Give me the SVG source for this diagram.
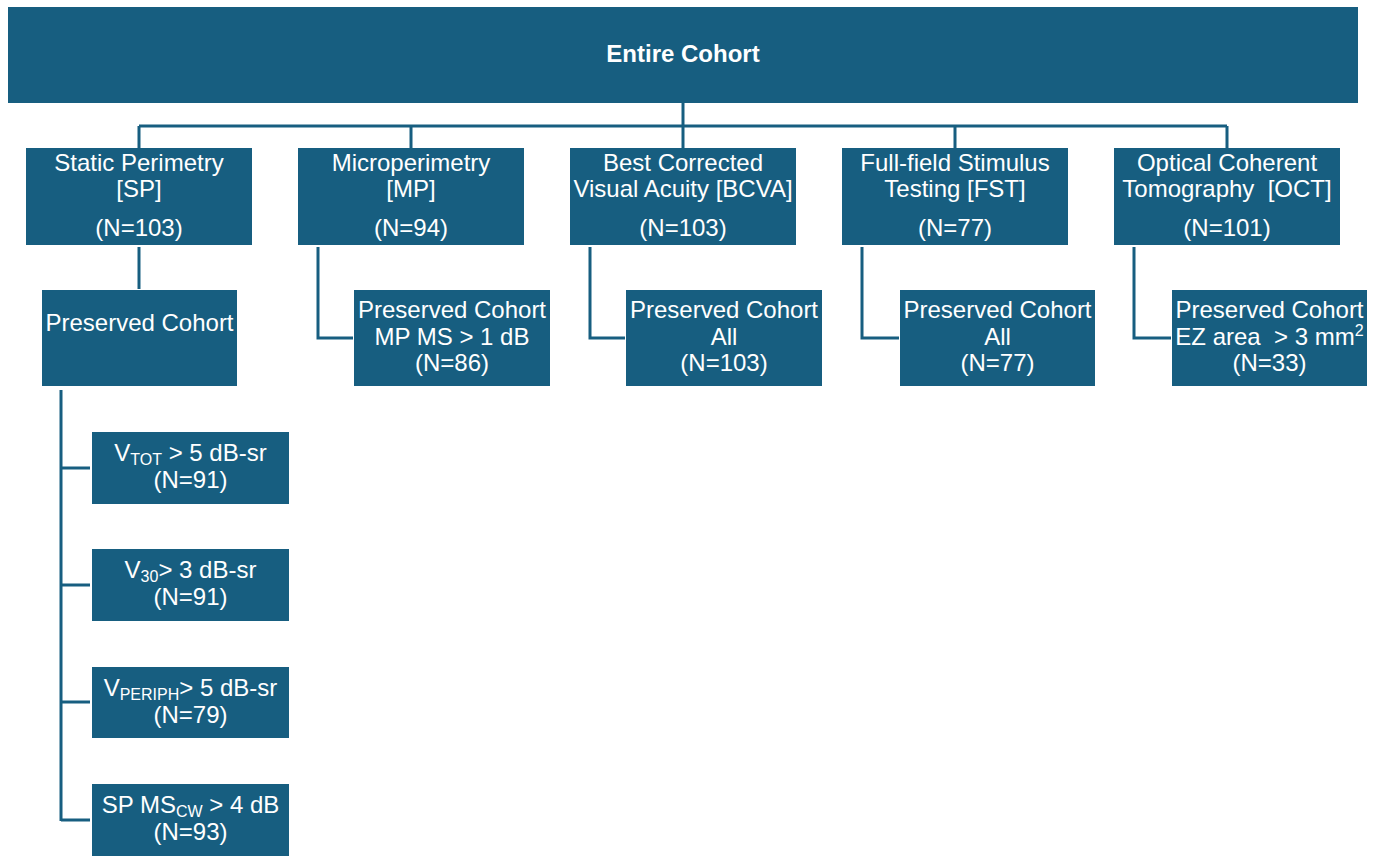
<svg xmlns="http://www.w3.org/2000/svg" width="1377" height="856" viewBox="0 0 1377 856">
<style>
.box{fill:#175e80;}
.t{font-family:"Liberation Sans",Arial,sans-serif;font-size:24px;fill:#ffffff;text-anchor:middle;white-space:pre;}
.b{font-weight:bold;}
.sub{font-size:16px;}
.conn{fill:none;stroke:#175e80;stroke-width:3;}
</style>
<rect width="1377" height="856" fill="#ffffff"/>
<g id="connectors" class="conn">
<path d="M683 103V148"/>
<path d="M139 126H1227"/>
<path d="M139 126V148M411 126V148M955 126V148M1227 126V148"/>
<path d="M139 247V289"/>
<path d="M318 247V338H353"/>
<path d="M590 247V338H625"/>
<path d="M862 247V338H899"/>
<path d="M1134 247V338H1171"/>
<path d="M61 390V821"/>
<path d="M61 468H90M61 585H90M61 702H90M61 820H90"/>
</g>
<g id="entire">
<rect class="box" x="8" y="7" width="1350" height="96"/>
<text class="t b" x="683" y="62">Entire Cohort</text>
</g>
<g id="sp">
<rect class="box" x="26" y="148" width="226" height="97"/>
<text class="t" x="139" y="171">Static Perimetry</text>
<text class="t" x="139" y="197">[SP]</text>
<text class="t" x="139" y="236">(N=103)</text>
</g>
<g id="mp">
<rect class="box" x="298" y="148" width="226" height="97"/>
<text class="t" x="411" y="171">Microperimetry</text>
<text class="t" x="411" y="197">[MP]</text>
<text class="t" x="411" y="236">(N=94)</text>
</g>
<g id="bcva">
<rect class="box" x="570" y="148" width="226" height="97"/>
<text class="t" x="683" y="171">Best Corrected</text>
<text class="t" x="683" y="197">Visual Acuity [BCVA]</text>
<text class="t" x="683" y="236">(N=103)</text>
</g>
<g id="fst">
<rect class="box" x="842" y="148" width="226" height="97"/>
<text class="t" x="955" y="171">Full-field Stimulus</text>
<text class="t" x="955" y="197">Testing [FST]</text>
<text class="t" x="955" y="236">(N=77)</text>
</g>
<g id="oct">
<rect class="box" x="1114" y="148" width="226" height="97"/>
<text class="t" x="1227" y="171">Optical Coherent</text>
<text class="t" x="1227" y="197">Tomography  [OCT]</text>
<text class="t" x="1227" y="236">(N=101)</text>
</g>
<g id="sp-preserved">
<rect class="box" x="42" y="290" width="195" height="96"/>
<text class="t" x="139.5" y="331">Preserved Cohort</text>
</g>
<g id="mp-preserved">
<rect class="box" x="354" y="290" width="196" height="96"/>
<text class="t" x="452" y="318">Preserved Cohort</text>
<text class="t" x="452" y="345">MP MS &gt; 1 dB</text>
<text class="t" x="452" y="371">(N=86)</text>
</g>
<g id="bcva-preserved">
<rect class="box" x="626" y="290" width="196" height="96"/>
<text class="t" x="724" y="318">Preserved Cohort</text>
<text class="t" x="724" y="345">All</text>
<text class="t" x="724" y="371">(N=103)</text>
</g>
<g id="fst-preserved">
<rect class="box" x="900" y="290" width="195" height="96"/>
<text class="t" x="997.5" y="318">Preserved Cohort</text>
<text class="t" x="997.5" y="345">All</text>
<text class="t" x="997.5" y="371">(N=77)</text>
</g>
<g id="oct-preserved">
<rect class="box" x="1172" y="290" width="195" height="96"/>
<text class="t" x="1269.5" y="318">Preserved Cohort</text>
<text class="t" x="1269.5" y="345">EZ area  &gt; 3 mm<tspan class="sub" dy="-9">2</tspan></text>
<text class="t" x="1269.5" y="371">(N=33)</text>
</g>
<g id="vtot">
<rect class="box" x="92" y="432" width="197" height="72"/>
<text class="t" x="190.5" y="461">V<tspan class="sub" dy="4">TOT</tspan><tspan dy="-4"> &gt; 5 dB-sr</tspan></text>
<text class="t" x="190.5" y="488">(N=91)</text>
</g>
<g id="v30">
<rect class="box" x="92" y="549" width="197" height="72"/>
<text class="t" x="190.5" y="578">V<tspan class="sub" dy="4">30</tspan><tspan dy="-4">&gt; 3 dB-sr</tspan></text>
<text class="t" x="190.5" y="605">(N=91)</text>
</g>
<g id="vperiph">
<rect class="box" x="92" y="667" width="197" height="71"/>
<text class="t" x="190.5" y="696">V<tspan class="sub" dy="4">PERIPH</tspan><tspan dy="-4">&gt; 5 dB-sr</tspan></text>
<text class="t" x="190.5" y="723">(N=79)</text>
</g>
<g id="spms">
<rect class="box" x="92" y="784" width="197" height="72"/>
<text class="t" x="190.5" y="813">SP MS<tspan class="sub" dy="4">CW</tspan><tspan dy="-4"> &gt; 4 dB</tspan></text>
<text class="t" x="190.5" y="840">(N=93)</text>
</g>
</svg>
